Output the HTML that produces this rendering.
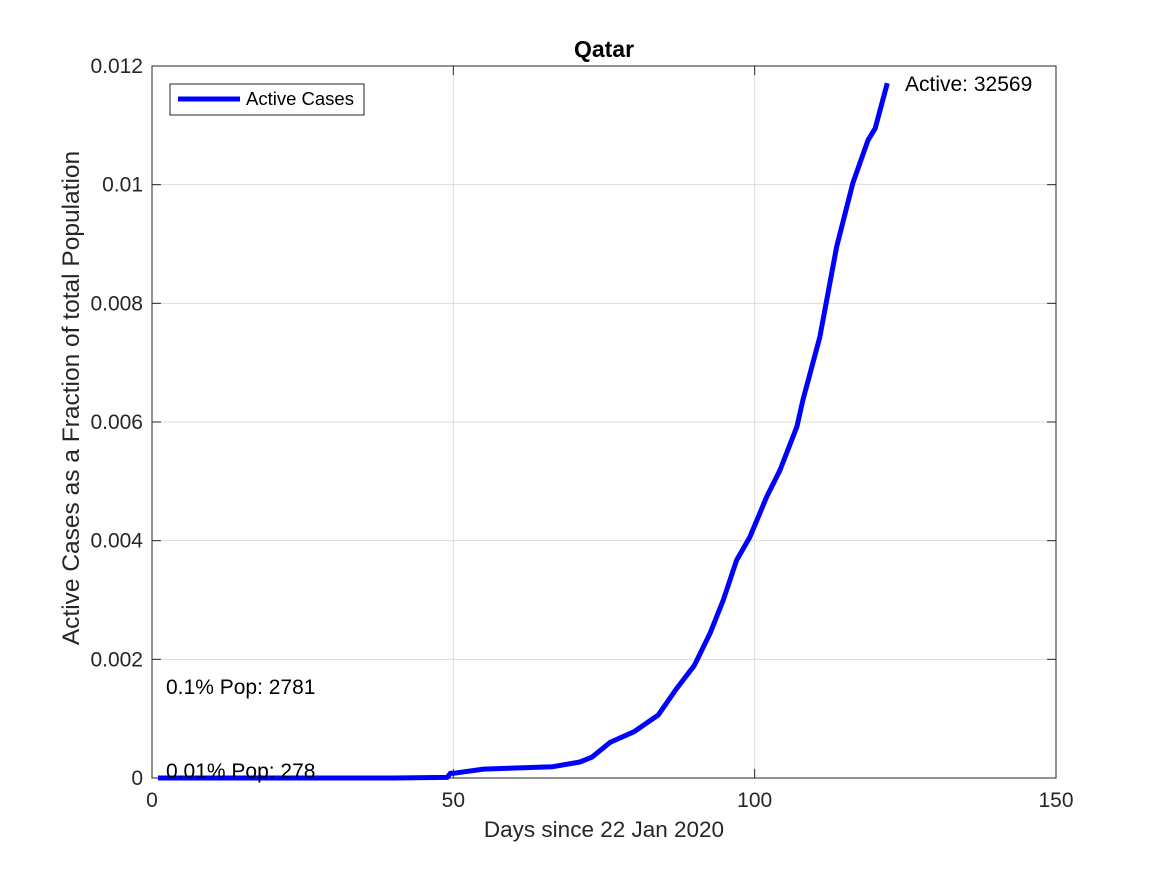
<!DOCTYPE html>
<html><head><meta charset="utf-8"><style>
body{margin:0;background:#fff;}
svg text{font-family:"Liberation Sans",Arial,sans-serif;fill:#262626;}
</style></head><body>
<svg id="chart" width="1167" height="875" xmlns="http://www.w3.org/2000/svg">
<rect width="1167" height="875" fill="#fff"/>
<g id="grid"></g>
<g id="axes"></g>
<g id="series"></g>
<text x="604" y="57" text-anchor="middle" font-size="23" font-weight="bold" style="fill:#000">Qatar</text>
<text x="604" y="837" text-anchor="middle" font-size="22.5">Days since 22 Jan 2020</text>
<text transform="translate(79,398) rotate(-90)" text-anchor="middle" font-size="24.5">Active Cases as a Fraction of total Population</text>
<text x="905" y="91" font-size="21" style="fill:#000">Active: 32569</text>
<text x="166" y="694" font-size="21" style="fill:#000">0.1% Pop: 2781</text>
<text x="166" y="778" font-size="21" style="fill:#000">0.01% Pop: 278</text>
<g>
<rect x="170" y="84" width="194" height="31" fill="#fff" stroke="#262626" stroke-width="1"/>
<line x1="178" y1="99" x2="240" y2="99" stroke="#0000ff" stroke-width="5"/>
<text x="246" y="105" font-size="18.5" style="fill:#000">Active Cases</text>
</g>
</svg>
<script>
const days=[1,10,20,30,40,49,49.5,50,55,66.5,71,73,76,80,84,87,90,92.6,94.8,97,99.2,102,104.2,107,108,110.8,113.6,116.3,118.8,120,122];
const activeFraction=[0,0,0,0,0,0.00001,0.00008,0.00008,0.00015,0.00019,0.00027,0.00035,0.0006,0.00078,0.00106,0.0015,0.0019,0.00244,0.003,0.00367,0.00406,0.00474,0.00519,0.00592,0.00637,0.00743,0.00895,0.01003,0.01075,0.01095,0.01171];
const xTicks=[0,50,100,150];
const yTicks=[0,0.002,0.004,0.006,0.008,0.01,0.012];
const yTickLabels=["0","0.002","0.004","0.006","0.008","0.01","0.012"];
const L=152,R=1056,T=66,B=778;
const xs=d=>L+(d-0)/150*(R-L);
const ys=v=>B-v/0.012*(B-T);
const NS="http://www.w3.org/2000/svg";
function mk(tag,parent,attrs){const e=document.createElementNS(NS,tag);for(const k in attrs)e.setAttribute(k,attrs[k]);parent.appendChild(e);return e;}
const grid=document.getElementById('grid'),axes=document.getElementById('axes'),series=document.getElementById('series');
xTicks.forEach(t=>{const x=xs(t);
 const g=mk('line',grid,{x1:x,x2:x,y1:T,y2:B,stroke:'#dcdcdc','stroke-width':1});
 
 
 mk('line',axes,{x1:x,x2:x,y1:B,y2:B-9,stroke:'#262626'});
 mk('line',axes,{x1:x,x2:x,y1:T,y2:T+9,stroke:'#262626'});
 const tx=mk('text',axes,{x:x,y:B+29,'text-anchor':'middle','font-size':21});tx.textContent=t;
 
 
});
yTicks.forEach((t,i)=>{const y=ys(t);
 const g=mk('line',grid,{x1:L,x2:R,y1:y,y2:y,stroke:'#dcdcdc','stroke-width':1});
 
 
 mk('line',axes,{x1:L,x2:L+9,y1:y,y2:y,stroke:'#262626'});
 mk('line',axes,{x1:R,x2:R-9,y1:y,y2:y,stroke:'#262626'});
 const tx=mk('text',axes,{x:L-9,y:y+7,'text-anchor':'end','font-size':21});tx.textContent=yTickLabels[i];
 
 
});
const box=mk('rect',axes,{x:L,y:T,width:R-L,height:B-T,fill:'none',stroke:'#262626','stroke-width':1});


const pts=days.map((d,i)=>xs(d).toFixed(1)+','+ys(activeFraction[i]).toFixed(1)).join(' ');
const line=mk('polyline',series,{points:pts,fill:'none',stroke:'#0000ff','stroke-width':5,'stroke-linejoin':'round'});


</script>
</body></html>
